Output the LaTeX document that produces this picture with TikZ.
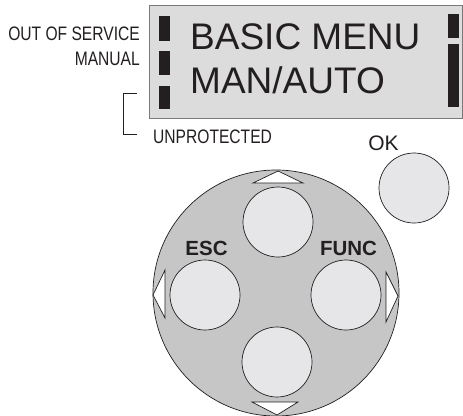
\documentclass[tikz,border=0pt]{standalone}
\usepackage{fontspec}
\setmainfont{Liberation Sans}
\newfontfamily\narrowfont[FakeStretch=0.8]{Liberation Sans}
\definecolor{lcdfill}{HTML}{DCDCDC}
\definecolor{lcdedge}{HTML}{7A7A7A}
\definecolor{padfill}{HTML}{C6C6C6}
\definecolor{btnfill}{HTML}{E6E6E8}
\definecolor{ink}{HTML}{231F20}
\begin{document}
\begin{tikzpicture}[x=1pt,y=-1pt,
  bar/.style={fill=ink,draw=none},
  btn/.style={circle,draw=ink,line width=0.7pt,fill=btnfill,minimum size=70pt,inner sep=0pt},
  arrowtri/.style={draw=ink,fill=white,line width=0.7pt,line join=miter},
  lbl/.style={inner sep=0pt,text=ink},
  lcdtext/.style={lbl,font=\fontsize{37}{37}\selectfont},
  sidetext/.style={lbl,font=\narrowfont\fontsize{19.5}{19.5}\selectfont},
  keytext/.style={lbl,font=\bfseries\fontsize{20.5}{20.5}\selectfont}]
\useasboundingbox (0,0) rectangle (463,415);
% display
\node[draw=lcdedge,line width=1.2pt,fill=lcdfill,minimum width=313pt,minimum height=113pt,inner sep=0pt,anchor=north west] (lcd) at (149,5) {};
\node[bar,minimum width=11pt,minimum height=25pt,inner sep=0pt,anchor=north west] (b1) at (159,16) {};
\node[bar,minimum width=11pt,minimum height=24pt,inner sep=0pt,anchor=north west] (b2) at (159,51) {};
\node[bar,minimum width=11pt,minimum height=23pt,inner sep=0pt,anchor=north west] (b3) at (159,86) {};
\node[bar,minimum width=11pt,minimum height=24pt,inner sep=0pt,anchor=north west] (b4) at (448,14) {};
\node[bar,minimum width=11pt,minimum height=63pt,inner sep=0pt,anchor=north west] (b5) at (448,44) {};
\node[lcdtext,anchor=base west] (l1) at (190,49) {BASIC MENU};
\node[lcdtext,anchor=base west] (l2) at (190,93) {MAN/AUTO};
% side labels
\node[sidetext,anchor=base east] (oos) at (140,40) {OUT OF SERVICE};
\node[sidetext,anchor=base east] (man) at (140,65) {MANUAL};
\node[sidetext,anchor=base west] (unp) at (153,143) {UNPROTECTED};
\coordinate (bt) at (137,93);
\coordinate (bb) at (137,134);
\draw[ink,line width=0.7pt] (bt) -- ++(-14,0) |- (bb);
% OK
\node[lbl,font=\fontsize{21}{21}\selectfont,anchor=base] (oktxt) at (383.5,150) {OK};
\node[btn] (ok) at (414,188) {};
% keypad
\node[circle,draw=ink,line width=0.7pt,fill=padfill,minimum size=246pt,inner sep=0pt] (pad) at (276,293) {};
\draw[arrowtri] (253,183) -- (303,183) -- (278,171) -- cycle;
\draw[arrowtri] (252,402) -- (298,402) -- (277,415) -- cycle;
\draw[arrowtri] (165,270) -- (165,318) -- (153,295) -- cycle;
\draw[arrowtri] (386,272) -- (386,322) -- (398,296) -- cycle;
\node[btn] (up) at (278,222) {};
\node[btn] (left) at (205,295) {};
\node[btn] (right) at (346,295) {};
\node[btn] (down) at (277,362) {};
\node[keytext,anchor=base] (esc) at (206.5,255) {ESC};
\node[keytext,anchor=base] (func) at (348.5,255) {FUNC};
\end{tikzpicture}
\end{document}
